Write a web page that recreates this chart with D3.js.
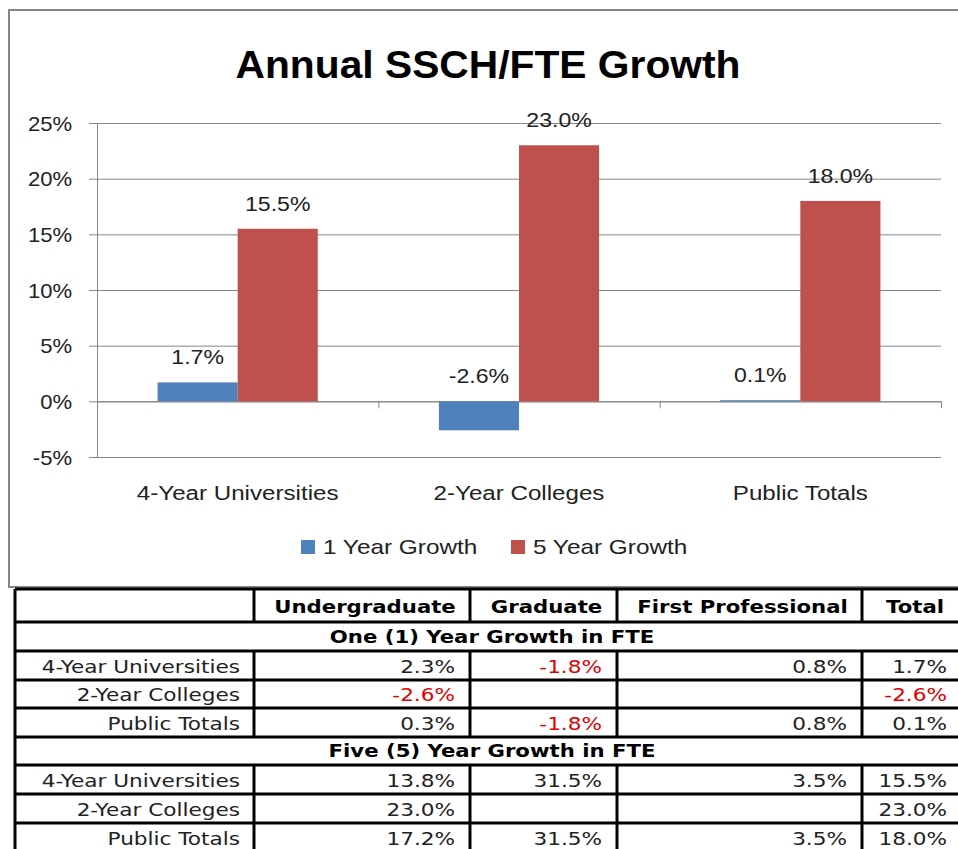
<!DOCTYPE html>
<html lang="en">
<head>
    <meta charset="UTF-8">
    <script src="https://d3js.org/d3.v7.min.js"></script>
    <title>Annual SSCH/FTE Growth</title>
    <style>
        body {
            margin: 0;
            padding: 0;
            background-color: #fff;
        }
        .chartfont { font-family: "Liberation Sans", Arial, sans-serif; }
        .tabfont { font-family: "DejaVu Sans", Verdana, sans-serif; }
    </style>
</head>
<body>
    <div id="box"></div>

    <script>
        // chart data
        let categories = ["4-Year Universities", "2-Year Colleges", "Public Totals"]
        let seriesNames = ["1 Year Growth", "5 Year Growth"]
        let oneYear = [1.7, -2.6, 0.1]
        let fiveYear = [15.5, 23.0, 18.0]
        let yTicks = [-5, 0, 5, 10, 15, 20, 25]

        // table data
        let tableCols = ["Undergraduate", "Graduate", "First Professional", "Total"]
        let oneYearTitle = "One (1) Year Growth in FTE"
        let fiveYearTitle = "Five (5) Year Growth in FTE"
        let oneYearRows = [[2.3, -1.8, 0.8, 1.7], [-2.6, null, null, -2.6], [0.3, -1.8, 0.8, 0.1]]
        let fiveYearRows = [[13.8, 31.5, 3.5, 15.5], [23.0, null, null, 23.0], [17.2, 31.5, 3.5, 18.0]]

        let colors = ["#4f81bd", "#c0504d"]

        let W = 958, H = 849
        let svg = d3.select("#box").append("svg")
            .attr("width", W)
            .attr("height", H)

        // text stretched sideways (the picture is a little wider than tall)
        function stext(sel, x, y, s) {
            return sel.append("text")
                .attr("transform", "translate(" + x + "," + y + ") scale(" + s + ",1)")
        }

        // chart frame
        svg.append("rect")
            .attr("x", 9).attr("y", 10)
            .attr("width", 960).attr("height", 577)
            .attr("fill", "#fff").attr("stroke", "#868686").attr("stroke-width", 2)

        let plot = { left: 97, right: 941, top: 123, bottom: 457 }

        let y = d3.scaleLinear().domain([-5, 25]).range([plot.bottom, plot.top])
        let x0 = d3.scaleBand().domain(categories).range([plot.left, plot.right]).padding(0)
        let x1 = d3.scaleBand().domain(seriesNames).range([0, x0.bandwidth()])
            .paddingInner(0).paddingOuter(0.756)

        let g = svg.append("g").attr("class", "chartfont")

        // title
        g.append("text")
            .attr("x", 488).attr("y", 78)
            .attr("text-anchor", "middle")
            .attr("font-size", 39).attr("font-weight", "bold")
            .attr("textLength", 505).attr("lengthAdjust", "spacingAndGlyphs")
            .text("Annual SSCH/FTE Growth")

        // gridlines
        g.selectAll(".grid").data(yTicks).enter().append("line")
            .attr("x1", plot.left - 8).attr("x2", plot.right)
            .attr("y1", d => y(d) + 0.5).attr("y2", d => y(d) + 0.5)
            .attr("stroke", "#868686").attr("stroke-width", 1)

        // y axis
        let yAxis = d3.axisLeft(y).tickValues(yTicks).tickSize(0).tickPadding(25)
            .tickFormat(d => d + "%")
        let ya = g.append("g").attr("transform", "translate(" + plot.left + ",0)").call(yAxis)
        ya.select(".domain").attr("stroke", "#868686")
        ya.selectAll(".tick text").remove()
        ya.selectAll(".tick").each(function (d) {
            stext(d3.select(this), -25, 7, 1.05)
                .attr("text-anchor", "end")
                .attr("font-size", 21).attr("fill", "#222")
                .attr("font-family", "Liberation Sans, Arial, sans-serif")
                .text(d + "%")
        })

        // x axis at zero
        let bounds = categories.map(c => x0(c)).concat([plot.right])
        g.append("line")
            .attr("x1", plot.left).attr("x2", plot.right)
            .attr("y1", y(0) + 0.5).attr("y2", y(0) + 0.5)
            .attr("stroke", "#868686")
        g.selectAll(".xtick").data(bounds).enter().append("line")
            .attr("x1", d => d + 0.5).attr("x2", d => d + 0.5)
            .attr("y1", y(0)).attr("y2", y(0) + 7)
            .attr("stroke", "#868686")

        // category labels
        categories.forEach(c => {
            stext(g, x0(c) + x0.bandwidth() / 2, 500, 1.15)
                .attr("text-anchor", "middle")
                .attr("font-size", 21).attr("fill", "#222")
                .text(c)
        })

        // bars
        let barData = []
        categories.forEach((c, i) => {
            barData.push({ cat: c, s: seriesNames[0], v: oneYear[i], col: colors[0] })
            barData.push({ cat: c, s: seriesNames[1], v: fiveYear[i], col: colors[1] })
        })

        g.selectAll(".bar").data(barData).enter().append("rect")
            .attr("x", d => x0(d.cat) + x1(d.s))
            .attr("y", d => y(Math.max(0, d.v)))
            .attr("width", x1.bandwidth())
            .attr("height", d => Math.abs(y(d.v) - y(0)))
            .attr("fill", d => d.col)

        barData.forEach(d => {
            stext(g, x0(d.cat) + x1(d.s) + x1.bandwidth() / 2, y(Math.max(0, d.v)) - 18, 1.1)
                .attr("text-anchor", "middle")
                .attr("font-size", 21).attr("fill", "#222")
                .text(d.v.toFixed(1) + "%")
        })

        // legend
        let legX = [301, 511]
        seriesNames.forEach((s, i) => {
            g.append("rect").attr("x", legX[i]).attr("y", 540)
                .attr("width", 14).attr("height", 14).attr("fill", colors[i])
            stext(g, legX[i] + 22, 554, 1.16)
                .attr("font-size", 21).attr("fill", "#222").text(s)
        })

        // table
        let colEdges = [15, 254, 470, 617, 862, 962]
        let rowEdges = [589, 622, 651, 680, 708, 737, 765, 794, 823, 852]
        let sx = 1.2
        let t = svg.append("g").attr("class", "tabfont")

        t.append("rect").attr("x", colEdges[0]).attr("y", rowEdges[0])
            .attr("width", 960).attr("height", 270).attr("fill", "#fff")

        function fmt(v) { return v == null ? "" : v.toFixed(1) + "%" }

        function hline(yy) {
            t.append("line").attr("x1", colEdges[0]).attr("x2", W + 5)
                .attr("y1", yy).attr("y2", yy).attr("stroke", "#000").attr("stroke-width", 3)
        }
        function vline(xx, y1, y2) {
            t.append("line").attr("x1", xx).attr("x2", xx)
                .attr("y1", y1).attr("y2", y2).attr("stroke", "#000").attr("stroke-width", 3)
        }

        // header row
        tableCols.forEach((c, i) => {
            stext(t, (colEdges[i + 1] + colEdges[i + 2]) / 2 + 3, rowEdges[1] - 9, 1.18)
                .attr("text-anchor", "middle")
                .attr("font-size", 18).attr("font-weight", "bold")
                .text(c)
        })

        function section(title, rows, r0) {
            stext(t, 492, rowEdges[r0 + 1] - 8, 1.18)
                .attr("text-anchor", "middle")
                .attr("font-size", 18).attr("font-weight", "bold")
                .text(title)
            rows.forEach((r, j) => {
                let yy = rowEdges[r0 + 2 + j] - 7
                stext(t, colEdges[1] - 14, yy, sx)
                    .attr("text-anchor", "end").attr("font-size", 18).attr("fill", "#222")
                    .text(categories[j])
                r.forEach((v, k) => {
                    stext(t, colEdges[k + 2] - 15, yy, sx)
                        .attr("text-anchor", "end").attr("font-size", 18)
                        .attr("fill", v != null && v < 0 ? "#e00000" : "#222")
                        .text(fmt(v))
                })
                vline(colEdges[1], rowEdges[r0 + 1 + j], rowEdges[r0 + 2 + j])
                vline(colEdges[2], rowEdges[r0 + 1 + j], rowEdges[r0 + 2 + j])
                vline(colEdges[3], rowEdges[r0 + 1 + j], rowEdges[r0 + 2 + j])
                vline(colEdges[4], rowEdges[r0 + 1 + j], rowEdges[r0 + 2 + j])
            })
        }
        section(oneYearTitle, oneYearRows, 1)
        section(fiveYearTitle, fiveYearRows, 5)

        rowEdges.slice(0, 9).forEach(hline)
        vline(colEdges[0], rowEdges[0], H + 5)
        colEdges.slice(1, 5).forEach(xx => vline(xx, rowEdges[0], rowEdges[1]))
    </script>
</body>
</html>
